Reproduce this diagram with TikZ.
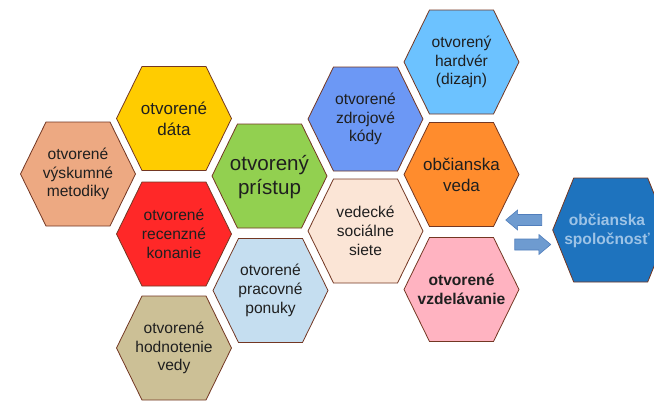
\documentclass[tikz,border=0pt]{standalone}
\usepackage{fontspec}
\setmainfont{Liberation Sans}
\usetikzlibrary{shapes.arrows}
\definecolor{cData}{RGB}{255,204,0}
\definecolor{cMet}{RGB}{237,169,130}
\definecolor{cRec}{RGB}{255,40,40}
\definecolor{cPri}{RGB}{146,208,80}
\definecolor{cPon}{RGB}{197,222,240}
\definecolor{cHod}{RGB}{204,192,150}
\definecolor{cKod}{RGB}{108,152,245}
\definecolor{cHar}{RGB}{108,194,255}
\definecolor{cVed}{RGB}{255,140,45}
\definecolor{cSie}{RGB}{251,229,214}
\definecolor{cVzd}{RGB}{255,179,193}
\definecolor{cSpo}{RGB}{30,115,190}
\definecolor{cSpoTxt}{RGB}{157,195,230}
\definecolor{cEdge}{RGB}{115,55,35}
\definecolor{cArr}{RGB}{110,155,208}
\definecolor{cArrEdge}{RGB}{80,126,188}
\tikzset{
  hexa/.pic={\path[pic actions] (-57.5,0) -- (-32,-52) -- (32,-52) -- (57.5,0) -- (32,52) -- (-32,52) -- cycle;},
  widehexa/.pic={\path[pic actions] (-58,0) -- (-37,-52) -- (37,-52) -- (58,0) -- (37,52) -- (-37,52) -- cycle;}
}

\begin{document}
\begin{tikzpicture}[x=1pt, y=-1pt,
    hexline/.style={draw=cEdge, line width=0.8pt},
    cell/.style={align=center, inner sep=0pt, text=black!88,
      font=\fontsize{15.6pt}{18.7pt}\selectfont},
    bigcell/.style={cell, font=\fontsize{17pt}{20.4pt}\selectfont},
    hugecell/.style={cell, font=\fontsize{20.6pt}{24.7pt}\selectfont},
    blockarrow/.style={single arrow, draw=cArrEdge, fill=cArr, line width=0.6pt,
      minimum height=36pt, inner xsep=0pt, inner ysep=5.2pt,
      single arrow head extend=4.5pt, single arrow tip angle=80}]
  \useasboundingbox (0,0) rectangle (654,402);
  \clip (0,0) rectangle (654,402);
  % left column
  \pic[hexline, fill=cMet] at (78,174) {hexa};
  \node[cell] (metodiky) at (78,174) {otvorené\\výskumné\\metodiky};
  % second column
  \pic[hexline, fill=cData] at (174,118.5) {hexa};
  \node[bigcell] (data) at (174,119) {otvorené\\dáta};
  \pic[hexline, fill=cRec] at (174,234) {hexa};
  \node[cell] (recenzne) at (174,234) {otvorené\\recenzné\\konanie};
  \pic[hexline, fill=cHod] at (174,348) {hexa};
  \node[cell] (hodnotenie) at (174,348) {otvorené\\hodnotenie\\vedy};
  % third column
  \pic[hexline, fill=cPri] at (269.5,176) {hexa};
  \node[hugecell] (pristup) at (269.5,177) {otvorený\\prístup};
  \pic[hexline, fill=cPon] at (270.5,290.5) {hexa};
  \node[cell] (ponuky) at (270.5,290.5) {otvorené\\pracovné\\ponuky};
  % fourth column
  \pic[hexline, fill=cKod] at (365.5,119) {hexa};
  \node[cell] (kody) at (365.5,119) {otvorené\\zdrojové\\kódy};
  \pic[hexline, fill=cSie] at (365.5,231) {hexa};
  \node[cell] (siete) at (365.5,231) {vedecké\\sociálne\\siete};
  % fifth column
  \pic[hexline, fill=cHar] at (461.5,62) {hexa};
  \node[cell] (hardver) at (461.5,62) {otvorený\\hardvér\\(dizajn)};
  \pic[hexline, fill=cVed] at (461.5,174.5) {hexa};
  \node[bigcell] (veda) at (461.5,175) {občianska\\veda};
  \pic[hexline, fill=cVzd] at (461.5,289.5) {hexa};
  \node[cell, font=\fontsize{15.6pt}{18.7pt}\selectfont\bfseries] (vzdelavanie) at (461.5,289.5) {otvorené\\vzdelávanie};
  % society
  \pic[hexline, fill=cSpo] at (610.7,230) {widehexa};
  \node[cell, text=cSpoTxt, font=\fontsize{15.6pt}{18.7pt}\selectfont\bfseries] (spolocnost) at (607,231) {občianska\\spoločnosť};
  \node[blockarrow, shape border rotate=180] (arrIn) at (527,220) {};
  \node[blockarrow] (arrOut) at (529.5,244.5) {};
\end{tikzpicture}
\end{document}
